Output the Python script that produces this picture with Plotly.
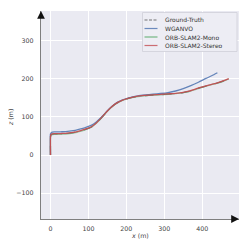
import plotly.graph_objects as go

# Ground truth trajectory
gt_x = [0, 0, 0.5, 2, 5, 10, 20, 30, 40, 50, 60, 70, 80, 90, 100, 110, 120, 130, 140, 150,
        160, 170, 180, 190, 200, 215, 230, 250, 270, 290, 310, 330, 350, 365, 380, 395, 410,
        425, 440, 455, 470]
gt_z = [0, 45, 51, 54, 55, 55.5, 55.5, 56, 56.5, 57.5, 59, 61, 63.5, 66.5, 70, 75, 83, 93,
        104, 115, 125, 133, 139, 143.5, 147, 151, 154, 156, 157.5, 158.5, 160, 161.5, 164,
        167, 172, 177, 181, 185, 189, 194, 200]

# WGANVO
wg_x = [0, -0.5, 0, 2, 5, 10, 20, 30, 40, 50, 60, 70, 80, 90, 100, 110, 120, 130, 140, 150,
        160, 170, 180, 190, 200, 215, 230, 250, 270, 290, 310, 330, 350, 370, 390, 410, 425, 440]
wg_z = [0, 48, 55, 58.5, 60, 60.5, 60.5, 61, 61.5, 62.5, 64, 66, 68.5, 71.5, 75, 79, 86, 95,
        105, 116, 126, 134, 140, 144.5, 148, 152, 155, 157.5, 159.5, 161.5, 164, 168, 174,
        182, 191, 201, 208, 216]

# ORB-SLAM2 Mono
mono_x = [0, 0, 0.5, 2, 5, 10, 20, 30, 40, 50, 60, 70, 80, 90, 100, 110, 120, 130, 140, 150,
          160, 170, 180, 190, 200, 215, 230, 250, 270, 290, 310, 330, 350, 365, 380, 395, 410,
          425, 440, 455, 470]
mono_z = [0, 44, 50, 52.5, 53.5, 54, 54, 54.5, 55, 56, 57.5, 59.5, 62.5, 65.5, 69.5, 74.5,
          82.5, 92.5, 103.5, 114.5, 124.5, 132.5, 138.5, 143, 146.5, 150.5, 153.5, 155.5, 157,
          158, 159.5, 161, 163.5, 166.5, 171.5, 176.5, 180.5, 184.5, 188.5, 193.5, 199.5]

# ORB-SLAM2 Stereo
st_x = [0, 0, 0.5, 2, 5, 10, 20, 30, 40, 50, 60, 70, 80, 90, 100, 110, 120, 130, 140, 150,
        160, 170, 180, 190, 200, 215, 230, 250, 270, 290, 310, 330, 350, 365, 380, 395, 410,
        425, 440, 455, 470]
st_z = [0, 46, 51.5, 54.5, 55.5, 56, 56, 56.5, 57, 58, 59.5, 61.5, 64, 67, 70.5, 75.5, 83.5,
        93.5, 104.5, 115.5, 125.5, 133.5, 139.5, 144, 147.5, 151.5, 154.5, 156.5, 158, 159,
        160.5, 162, 164.5, 167.5, 172.5, 177.5, 181.5, 185.5, 189.5, 194.5, 200.5]

names = ["Ground-Truth", "WGANVO", "ORB-SLAM2-Mono", "ORB-SLAM2-Stereo"]
colors = ["#555555", "#4C72B0", "#55A868", "#C44E52"]
dashes = ["dash", "solid", "solid", "solid"]
opac = [0.8, 0.85, 0.6, 0.95]

FONT = "DejaVu Sans"
fig = go.Figure()
series = [(gt_x, gt_z), (wg_x, wg_z), (mono_x, mono_z), (st_x, st_z)]
for (xs, zs), n, c, d, o in zip(series, names, colors, dashes, opac):
    fig.add_trace(go.Scatter(x=xs, y=zs, mode="lines", name=n,
                             line=dict(color=c, width=1.3, dash=d, shape="spline", smoothing=0.7),
                             opacity=o, showlegend=False))

OFF = 8  # page body margin
W = H = 249 - OFF
# desired window-pixel plot edges
WL, WR, WT, WB = 41, 239, 11, 219
L, R, T, B = WL - OFF, 249 - WR, WT - OFF, 249 - WB
pw, ph = W - L - R, H - T - B

def px(x):
    return (x - WL) / pw

def py(y):
    return (WB - y) / ph

shapes = []
annotations = []
# manual legend
shapes.append(dict(type="rect", xref="paper", yref="paper",
                   x0=px(142.5), x1=px(237), y0=py(51.5), y1=py(12.5),
                   fillcolor="#EDEDF4", line=dict(color="#CFCFD8", width=0.8), layer="above"))
ys = [20, 28.5, 37, 45.5]
for n, c, d, yy in zip(names, colors, dashes, ys):
    shapes.append(dict(type="line", xref="paper", yref="paper",
                       x0=px(144.5), x1=px(157.5), y0=py(yy), y1=py(yy),
                       line=dict(color=c, width=1.2, dash="3px,1.5px" if d == "dash" else "solid"),
                       opacity=0.8, layer="above"))
    annotations.append(dict(xref="paper", yref="paper", x=px(162.5), y=py(yy),
                            text=n, showarrow=False, xanchor="left", yanchor="middle",
                            font=dict(family=FONT, size=6, color="#333333")))

# axis titles
annotations.append(dict(xref="paper", yref="paper", x=px(140), y=py(235.5),
                        text="<i>x</i> (m)", showarrow=False, xanchor="center", yanchor="middle",
                        font=dict(family=FONT, size=6.3, color="#444444")))
annotations.append(dict(xref="paper", yref="paper", x=px(11), y=py(118),
                        text="<i>z</i> (m)", showarrow=False, xanchor="center", yanchor="middle",
                        textangle=-90, font=dict(family=FONT, size=6.3, color="#444444")))

# spine arrows
annotations.append(dict(xref="paper", yref="paper", x=0, y=1.0, ax=0, ay=8,
                        axref="pixel", ayref="pixel", showarrow=True, arrowhead=2,
                        arrowsize=1.3, arrowwidth=1.2, arrowcolor="#111111", text=""))
annotations.append(dict(xref="paper", yref="paper", x=1.0, y=0, ax=-8, ay=0,
                        axref="pixel", ayref="pixel", showarrow=True, arrowhead=2,
                        arrowsize=1.3, arrowwidth=1.2, arrowcolor="#111111", text=""))

fig.update_layout(
    width=W, height=H,
    margin=dict(l=L, r=R, t=T, b=B, autoexpand=False),
    paper_bgcolor="white", plot_bgcolor="#EAEAF2",
    font=dict(family=FONT, size=6.3, color="#444444"),
    shapes=shapes, annotations=annotations,
    showlegend=False,
)
fig.update_xaxes(range=[-25, 497], tickmode="array", tickvals=[0, 100, 200, 300, 400],
                 showgrid=True, gridcolor="white", gridwidth=1, zeroline=False,
                 showline=True, linecolor="#7F7F7F", linewidth=1.2, ticks="",
                 ticklabelstandoff=3, automargin=False)
fig.update_yaxes(range=[-168, 378], tickmode="array", tickvals=[-100, 0, 100, 200, 300],
                 showgrid=True, gridcolor="white", gridwidth=1, zeroline=False,
                 showline=True, linecolor="#7F7F7F", linewidth=1.2, ticks="",
                 ticklabelstandoff=5, automargin=False)

fig.write_html("out.html")
